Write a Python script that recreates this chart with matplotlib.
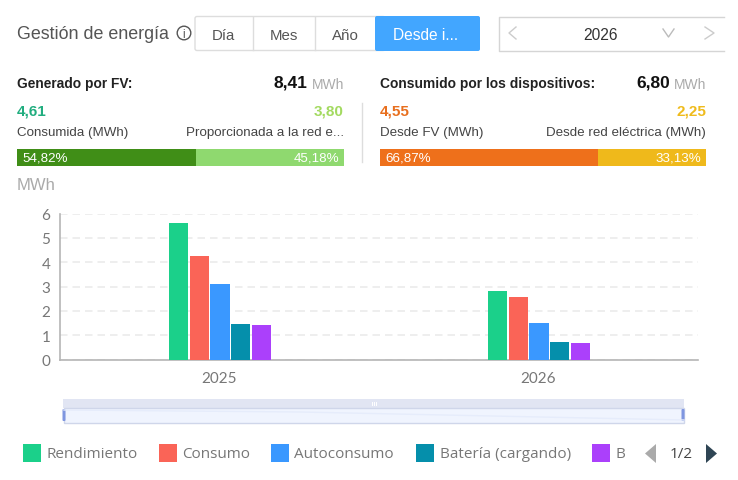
import matplotlib
matplotlib.use("Agg")
import matplotlib.pyplot as plt
from matplotlib.patches import Rectangle, FancyBboxPatch, Polygon, Circle

# Annual energy per series, MWh
years = ["2025", "2026"]
series_names = ["Rendimiento", "Consumo", "Autoconsumo", "Batería (cargando)", "B"]
series_colors = ["#1bd08a", "#fa6457", "#3a98ff", "#058fab", "#ab40fb"]
rendimiento = [5.60, 2.81]
consumo = [4.25, 2.55]
autoconsumo = [3.10, 1.50]
bateria_carga = [1.45, 0.70]
bateria_descarga = [1.42, 0.68]
all_series = [rendimiento, consumo, autoconsumo, bateria_carga, bateria_descarga]
y_ticks = [0, 1, 2, 3, 4, 5, 6]

# Summary panels
generated_split = [54.82, 45.18]
consumed_split = [66.87, 33.13]
tabs = ["Día", "Mes", "Año"]

W, H = 738, 481
fig = plt.figure(figsize=(W / 100, H / 100), dpi=100, facecolor="white")
ui = fig.add_axes([0, 0, 1, 1])
ui.set_xlim(0, W)
ui.set_ylim(H, 0)
ui.axis("off")

SANS = "Liberation Sans"
UI2 = "Open Sans"


def label(x, y, s, size=9.5, color="#333333", ha="left", weight="normal", family=SANS):
    ui.text(x, y, s, fontsize=size, color=color, ha=ha, va="center", fontweight=weight, family=family)


# Header
label(17, 34.5, "Gestión de energía", 12.9, "#555555")
ui.add_patch(Circle((184, 34), 6.8, fill=False, ec="#555555", lw=1))
label(184, 34.5, "i", 8.5, "#555555", ha="center")

ui.add_patch(FancyBboxPatch((195, 17.5), 190, 34, boxstyle="round,pad=0,rounding_size=2",
                            fc="white", ec="#dddddd", lw=1))
for x in (252.5, 314.5):
    ui.plot([x, x], [18, 51], color="#dddddd", lw=1)
for x, s in zip((223.5, 283.5, 345), tabs):
    label(x, 36, s, 10.8, "#555555", ha="center")
ui.add_patch(FancyBboxPatch((375, 17), 105, 35, boxstyle="round,pad=0,rounding_size=2",
                            fc="#42a6ff", ec="none"))
label(425.5, 36, "Desde i...", 11.2, "white", ha="center")

# Year picker, open on its right-hand side
ui.plot([724, 498.5, 498.5, 724], [17.5, 17.5, 51.5, 51.5], color="#d5d5d5", lw=1)
label(600, 36, "2026", 11.2, "#333333", ha="center")
ui.plot([516, 509, 516], [28, 34, 40], color="#cccccc", lw=1)
ui.plot([663, 668.5, 674], [30, 38, 30], color="#bbbbbb", lw=1)
ui.plot([705, 714, 705], [28, 34, 40], color="#cccccc", lw=1)


# Summary panels
def summary(x0, x1, title, total, left_val, right_val, left_col, right_col, left_txt, right_txt,
            split, bar_cols, unit_x):
    label(x0, 84, title, 9.9, "#222222", weight="bold")
    label(unit_x, 83.5, total, 12.5, "#111111", ha="right", weight="bold")
    label(x1, 85, "MWh", 10, "#aaaaaa", ha="right")
    label(x0, 111.5, left_val, 11, left_col, weight="bold")
    label(x1, 111.5, right_val, 11, right_col, ha="right", weight="bold")
    label(x0, 133, left_txt, 9.6, "#444444")
    label(x1, 133, right_txt, 9.6, "#444444", ha="right")
    width = x1 - x0
    mid = x0 + width * split[0] / 100
    ui.add_patch(Rectangle((x0, 150), mid - x0, 17, fc=bar_cols[0], ec="none"))
    ui.add_patch(Rectangle((mid, 150), x1 - mid, 17, fc=bar_cols[1], ec="none"))
    label(x0 + 5, 158.5, f"{split[0]:.2f}%".replace(".", ","), 9.6, "white")
    label(x1 - 5, 158.5, f"{split[1]:.2f}%".replace(".", ","), 9.6, "white", ha="right")


summary(17, 344, "Generado por FV:", "8,41", "4,61", "3,80", "#21ad7f", "#a3da60",
        "Consumida (MWh)", "Proporcionada a la red e...", generated_split,
        ("#408e17", "#8fd96f"), 307)
summary(380, 706, "Consumido por los dispositivos:", "6,80", "4,55", "2,25", "#e86f1e", "#efbb1c",
        "Desde FV (MWh)", "Desde red eléctrica (MWh)", consumed_split,
        ("#ee701b", "#efb91b"), 670)
ui.plot([361.5, 361.5], [104, 163], color="#dddddd", lw=1)
label(17, 185.5, "MWh", 12, "#aaaaaa")

# Bar chart, placed to pixel bounds
ax_l, ax_r, ax_t, ax_b = 60, 698, 214.5, 360.5
ax = fig.add_axes([ax_l / W, 1 - ax_b / H, (ax_r - ax_l) / W, (ax_b - ax_t) / H])
ax.patch.set_alpha(0)
ax.set_xlim(-0.5, 1.5)
ax.set_ylim(0, 6)
ax.set_yticks(y_ticks)
ax.set_xticks(range(len(years)), years)
ax.set_axisbelow(True)
ax.yaxis.grid(True, color="#ebebeb", lw=1.2, ls=(0, (4.5, 3)))
bar_w = 19.2 / 319
step = 20.8 / 319
for i, (vals, col) in enumerate(zip(all_series, series_colors)):
    offs = [k + (i - 2) * step + 0.0016 for k in range(len(years))]
    ax.bar(offs, vals, width=bar_w, color=col, linewidth=0, zorder=3)
for side in ("top", "right"):
    ax.spines[side].set_visible(False)
for side in ("left", "bottom"):
    ax.spines[side].set_color("#b5b5b5")
    ax.spines[side].set_linewidth(1.2)
ax.tick_params(length=0, labelcolor="#777777", labelsize=11)
ax.tick_params(axis="x", pad=8)
ax.tick_params(axis="y", pad=7)
for t in ax.get_xticklabels() + ax.get_yticklabels():
    t.set_family("Lato")

# Range slider under the chart
ui.add_patch(Rectangle((63, 400), 621, 8.5, fc="#e1e5f3", ec="none"))
ui.add_patch(Rectangle((64, 409), 620, 15, fc="#f0f4fe", ec="#cfd6ea", lw=1))
ui.plot([64, 300, 684], [411, 413, 421], color="#e6ecfb", lw=1)
for x in (64, 683):
    ui.add_patch(FancyBboxPatch((x - 1.5, 410), 3, 12, boxstyle="round,pad=0,rounding_size=1",
                                fc="#7f96e0", ec="none"))
for x in (371.5, 373.5, 375.5):
    ui.plot([x, x], [402.5, 405.5], color="white", lw=0.7)

# Legend row
legend_x = [23, 159, 271, 416, 592]
for x, name, col in zip(legend_x, series_names, series_colors):
    ui.add_patch(Rectangle((x, 445), 18, 18, fc=col, ec="none"))
    label(x + 23.5, 454.5, name, 11, "#777777", family=UI2)
ui.add_patch(Polygon([[656, 445], [656, 464], [645, 454.5]], fc="#aaaaaa", ec="none"))
label(681, 455, "1/2", 11, "#444444", ha="center", family=UI2)
ui.add_patch(Polygon([[706, 445], [706, 464], [717, 454.5]], fc="#2f4554", ec="none"))

fig.savefig("out.png", dpi=100)
